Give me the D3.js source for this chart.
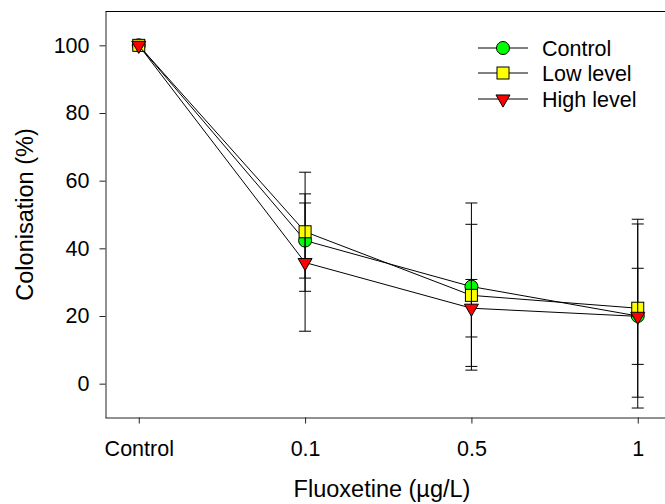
<!DOCTYPE html>
<html>
<head>
<meta charset="utf-8">
<script src="https://cdn.jsdelivr.net/npm/d3@7"></script>
<style>
  html, body { margin: 0; padding: 0; background: #fff; }
  svg { display: block; font-family: "Liberation Sans", Arial, sans-serif; }
</style>
</head>
<body>
<svg id="chart" width="665" height="504"></svg>
<script>
// ---- data ----
const categories = ["Control", "0.1", "0.5", "1"];
const controlValues = [100, 42.3, 28.7, 20.0];
const controlErrors = [0, 11.1, 24.7, 27.2];
const lowValues = [100, 44.9, 26.1, 22.3];
const lowErrors = [0, 17.6, 21.0, 26.3];
const highValues = [100, 35.8, 22.3, 19.9];
const highErrors = [0, 20.3, 8.5, 14.2];
const seriesNames = ["Control", "Low level", "High level"];
const yTicks = [0, 20, 40, 60, 80, 100];

const series = [
  { name: seriesNames[0], values: controlValues, errors: controlErrors, shape: "circle", fill: "#00ff00" },
  { name: seriesNames[1], values: lowValues, errors: lowErrors, shape: "square", fill: "#ffff00" },
  { name: seriesNames[2], values: highValues, errors: highErrors, shape: "triangle", fill: "#ff0000" }
];

// ---- layout ----
const svg = d3.select("#chart");
const plotLeft = 105.5, plotTop = 11.5, plotBottom = 417.5, plotRight = 671;

const x = d3.scalePoint().domain(categories).range([plotLeft, plotRight]).padding(0.2);
const y = d3.scaleLinear().domain([-10, 110]).range([plotBottom, plotTop]);

const fontTick = "21.5px";
const fontTitle = "23.5px";

// frame: top line and axes
svg.append("line").attr("x1", plotLeft).attr("x2", 665).attr("y1", plotTop).attr("y2", plotTop)
  .attr("stroke", "#000").attr("stroke-width", 1);

const yAxis = svg.append("g").attr("transform", `translate(${plotLeft},0)`)
  .call(d3.axisLeft(y).tickValues(yTicks).tickSize(6).tickPadding(10).tickSizeOuter(0));
yAxis.select(".domain").attr("stroke", "#222");
yAxis.selectAll(".tick line").attr("stroke", "#222");
yAxis.selectAll(".tick text").attr("font-size", fontTick).attr("font-family", "Liberation Sans, Arial, sans-serif").attr("fill", "#000");

const xAxis = svg.append("g").attr("transform", `translate(0,${plotBottom})`)
  .call(d3.axisBottom(x).tickSize(6).tickPadding(17).tickSizeOuter(0));
xAxis.select(".domain").attr("d", `M${plotLeft},0.5H665`).attr("stroke", "#222");
xAxis.selectAll(".tick line").attr("stroke", "#222");
xAxis.selectAll(".tick text").attr("font-size", fontTick).attr("font-family", "Liberation Sans, Arial, sans-serif").attr("fill", "#000");

// axis titles
svg.append("text").attr("x", 382).attr("y", 497).attr("text-anchor", "middle")
  .attr("font-size", fontTitle).attr("fill", "#000").text("Fluoxetine (\u00b5g/L)");
svg.append("text").attr("transform", `translate(33,${(plotTop + plotBottom) / 2}) rotate(-90)`)
  .attr("text-anchor", "middle").attr("font-size", fontTitle).attr("fill", "#000")
  .text("Colonisation (%)");

// marker drawing
function drawMarker(g, shape, fill, cx, cy) {
  if (shape === "circle") {
    g.append("circle").attr("cx", cx).attr("cy", cy).attr("r", 6.5)
      .attr("fill", fill).attr("stroke", "#000").attr("stroke-width", 1);
  } else if (shape === "square") {
    g.append("rect").attr("x", cx - 6).attr("y", cy - 6).attr("width", 12).attr("height", 12)
      .attr("fill", fill).attr("stroke", "#000").attr("stroke-width", 1);
  } else {
    g.append("path").attr("d", d3.symbol().type(d3.symbolTriangle).size(85)())
      .attr("transform", `translate(${cx},${cy}) rotate(180)`)
      .attr("fill", fill).attr("stroke", "#000").attr("stroke-width", 1);
  }
}

const line = d3.line().x((d, i) => x(categories[i])).y(d => y(d));
const capW = 6;

series.forEach(s => {
  const g = svg.append("g");
  // error bars
  s.values.forEach((v, i) => {
    const e = s.errors[i];
    if (e <= 0) return;
    const cx = x(categories[i]);
    g.append("line").attr("x1", cx).attr("x2", cx).attr("y1", y(v - e)).attr("y2", y(v + e))
      .attr("stroke", "#000").attr("stroke-width", 1);
    [v - e, v + e].forEach(t => {
      g.append("line").attr("x1", cx - capW).attr("x2", cx + capW).attr("y1", y(t)).attr("y2", y(t))
        .attr("stroke", "#000").attr("stroke-width", 1);
    });
  });
  // connecting line
  g.append("path").attr("d", line(s.values)).attr("fill", "none")
    .attr("stroke", "#000").attr("stroke-width", 1);
  // markers
  s.values.forEach((v, i) => drawMarker(g, s.shape, s.fill, x(categories[i]), y(v)));
});

// legend
const legendY = [48, 73, 99];
series.forEach((s, k) => {
  const g = svg.append("g");
  const ly = legendY[k];
  g.append("line").attr("x1", 478).attr("x2", 528).attr("y1", ly).attr("y2", ly)
    .attr("stroke", "#000").attr("stroke-width", 1);
  drawMarker(g, s.shape, s.fill, 503, ly);
  g.append("text").attr("x", 542).attr("y", ly).attr("dy", "0.36em")
    .attr("font-size", fontTick).attr("fill", "#000").text(s.name);
});
</script>
</body>
</html>
